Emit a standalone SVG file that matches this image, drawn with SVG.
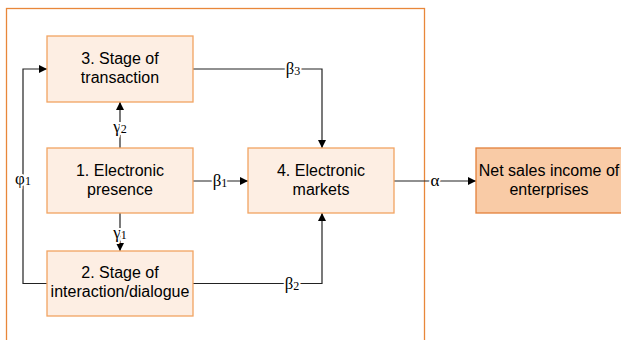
<svg xmlns="http://www.w3.org/2000/svg" width="621" height="340" viewBox="0 0 621 340">
<defs>
<marker id="ah" viewBox="0 0 10 10" refX="10" refY="5" markerWidth="8" markerHeight="8" markerUnits="userSpaceOnUse" orient="auto">
<path d="M0,0 L10,5 L0,10 z" fill="#000"/>
</marker>
<style>
.box{fill:#FDEEE3;stroke:#F2A462;stroke-width:1.3}
.out{fill:#F9CBA6;stroke:#E3803A;stroke-width:1.3}
.t{font-family:"Liberation Sans",Arial,sans-serif;font-size:16px;fill:#000;text-anchor:middle}
.c{fill:none;stroke:#222;stroke-width:1.2}
.g{font-family:"Liberation Serif","Times New Roman",serif;font-size:17px;fill:#000;text-anchor:middle;stroke:#fff;stroke-width:4;paint-order:stroke;stroke-linejoin:round}
.s{font-size:12px}
</style>
</defs>
<rect width="621" height="340" fill="#fff"/>
<rect x="6.5" y="8.5" width="418" height="345" fill="none" stroke="#E8873A" stroke-width="1.3"/>
<g id="connectors">
<path class="c" d="M47,283.5 H23 V69 H47" marker-end="url(#ah)"/>
<path class="c" d="M193,69 H322 V148" marker-end="url(#ah)"/>
<path class="c" d="M120,148 V102" marker-end="url(#ah)"/>
<path class="c" d="M120,213 V251" marker-end="url(#ah)"/>
<path class="c" d="M193,181 H248" marker-end="url(#ah)"/>
<path class="c" d="M193,283.5 H322 V213" marker-end="url(#ah)"/>
<path class="c" d="M394,181 H476" marker-end="url(#ah)"/>
<text class="g" x="23" y="184">φ<tspan class="s" dy="1">1</tspan></text>
<text class="g" x="293" y="74">β<tspan class="s" dy="1">3</tspan></text>
<text class="g" x="120" y="132">γ<tspan class="s" dy="1">2</tspan></text>
<text class="g" x="120" y="238">γ<tspan class="s" dy="1">1</tspan></text>
<text class="g" x="220" y="186">β<tspan class="s" dy="1">1</tspan></text>
<text class="g" x="292" y="289">β<tspan class="s" dy="1">2</tspan></text>
<text class="g" x="435" y="186">α</text>
</g>
<g id="n3">
<rect class="box" x="47" y="36" width="146" height="66"/>
<text class="t" x="120" y="64">3. Stage of</text>
<text class="t" x="120" y="83">transaction</text>
</g>
<g id="n1">
<rect class="box" x="47" y="148" width="146" height="65"/>
<text class="t" x="120" y="176">1. Electronic</text>
<text class="t" x="120" y="195">presence</text>
</g>
<g id="n2">
<rect class="box" x="47" y="251" width="146" height="65"/>
<text class="t" x="120" y="278">2. Stage of</text>
<text class="t" x="120" y="297">interaction/dialogue</text>
</g>
<g id="n4">
<rect class="box" x="248" y="148" width="146" height="65"/>
<text class="t" x="321" y="176">4. Electronic</text>
<text class="t" x="321" y="195">markets</text>
</g>
<g id="n5">
<rect class="out" x="476" y="148" width="160" height="65"/>
<text class="t" x="549" y="176">Net sales income of</text>
<text class="t" x="549" y="195">enterprises</text>
</g>
</svg>
